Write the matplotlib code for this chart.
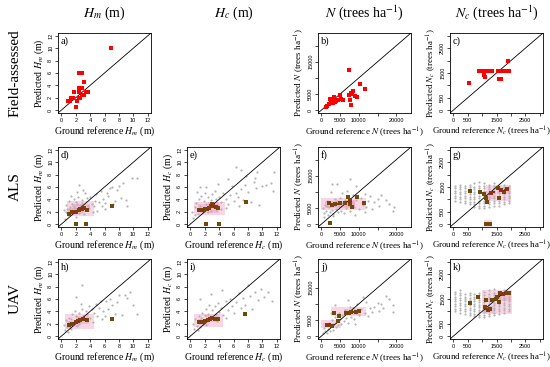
import matplotlib
matplotlib.use("Agg")
import matplotlib.pyplot as plt
from matplotlib.patches import Rectangle

plt.rcParams['font.family'] = 'Liberation Serif'
plt.rcParams['mathtext.fontset'] = 'stix'

# ---------------- data ----------------
col_titles = [r"$H_m$ (m)", r"$H_c$ (m)", r"$N$ (trees ha$^{-1}$)", r"$N_c$ (trees ha$^{-1}$)"]
row_titles = ["Field-assessed", "ALS", "UAV"]
var_names = [r"$H_m$ (m)", r"$H_c$ (m)", r"$N$ (trees ha$^{-1}$)", r"$N_c$ (trees ha$^{-1}$)"]
axis_max = [12, 12, 23000, 3000]
tick_vals = [[0, 2, 4, 6, 8, 10, 12], [0, 2, 4, 6, 8, 10, 12],
             [0, 5000, 10000, 15000, 20000], [0, 500, 1000, 1500, 2000, 2500, 3000]]
xtick_labels = [["0", "2", "4", "6", "8", "10", "12"], ["0", "2", "4", "6", "8", "10", "12"],
                ["0", "5000", "10000", "", "20000"], ["0", "500", "", "1500", "", "2500", ""]]
ytick_labels = [["0", "2", "4", "6", "8", "10", "12"], ["0", "2", "4", "6", "8", "10", "12"],
                ["0", "5000", "", "15000", ""], ["0", "500", "", "1500", "", "2500", ""]]

# field-assessed (red squares)
a_field = [(6.9, 10.0), (2.5, 6.0), (2.8, 6.0), (3.2, 4.5), (2.4, 3.5), (2.8, 3.5), (1.8, 3.0),
           (2.5, 3.0), (3.4, 3.0), (3.7, 3.0), (2.9, 2.5), (3.1, 2.5), (1.4, 2.0), (1.6, 2.0),
           (2.4, 2.0), (2.6, 2.0), (0.9, 1.5), (1.25, 1.5), (2.1, 1.5), (2.0, 0.5)]
b_field = [(7300, 12400), (10400, 8200), (11600, 6500), (5000, 4600), (3300, 4200), (7800, 5300),
           (8400, 6000), (8200, 5000), (8900, 4400), (9400, 4200), (7300, 4600), (7700, 3200),
           (8000, 1600), (5300, 3400), (5700, 3200), (2400, 3400), (3000, 3100), (3400, 2900),
           (3900, 2800), (2600, 2400), (2100, 1900), (1600, 1300), (1200, 1000), (3000, 2100),
           (3600, 2600), (4300, 3000), (3300, 3600)]
c_field = [(900, 1600), (1000, 1600), (1050, 1600), (1100, 1600), (1150, 1600), (1200, 1600),
           (1250, 1600), (1300, 1600), (1350, 1600), (1550, 1600), (1600, 1600), (1650, 1600),
           (1700, 1600), (1750, 1600), (1800, 1600), (1850, 1600), (1900, 1600), (1950, 1600),
           (1900, 2000), (1050, 1400), (1100, 1350), (1600, 1250), (1650, 1250), (550, 1100)]

# ALS row
d_gray = [(0.3, 2.2), (0.5, 0.8), (0.7, 3.1), (0.8, 2.4), (1.0, 1.6), (1.1, 3.8), (1.2, 2.8),
          (1.3, 4.6), (1.5, 3.3), (1.6, 2.0), (1.7, 4.1), (1.8, 2.9), (2.0, 3.6), (2.1, 5.2),
          (2.2, 2.4), (2.3, 4.4), (2.5, 6.4), (2.6, 3.1), (2.8, 3.9), (3.0, 5.5), (3.1, 2.7),
          (3.3, 5.0), (3.5, 4.2), (3.7, 3.0), (4.0, 4.4), (4.2, 3.3), (4.5, 2.9), (4.8, 4.8),
          (5.0, 2.1), (5.2, 3.6), (5.5, 5.4), (5.8, 4.0), (6.0, 2.5), (6.3, 5.0), (6.5, 4.5),
          (6.7, 5.8), (7.0, 6.0), (7.2, 3.2), (7.5, 3.7), (7.8, 5.5), (8.0, 6.2), (8.3, 4.2),
          (8.6, 6.7), (9.0, 3.9), (9.2, 2.9), (9.9, 7.4), (10.5, 7.4), (1.4, 2.1), (1.9, 2.6),
          (2.4, 1.8), (2.9, 3.4), (3.4, 2.3), (0.9, 1.5), (2.7, 2.2), (3.8, 2.6), (4.4, 1.9),
          (5.6, 3.0), (6.1, 3.4), (1.0, 2.5), (2.0, 1.2), (3.2, 1.6), (0.6, 1.9), (4.7, 3.8),
          (2.2, 3.2)]
d_pink = [(0.8, 4.6, 1.3, 3.7), (1.0, 3.2, 1.6, 2.6), (1.5, 4.0, 2.0, 3.3), (0.9, 2.2, 1.5, 2.2)]
d_brown = [(1.0, 1.7), (1.5, 1.9), (2.0, 1.9), (2.4, 2.2), (2.9, 2.5), (3.2, 2.6), (2.6, 2.4),
           (3.6, 2.2), (2.0, 0.0), (3.4, 0.0), (7.0, 3.0)]
d_red = [(1.2, 1.8), (1.7, 1.9), (2.2, 2.1), (2.7, 2.4), (3.0, 2.6), (3.4, 2.4)]

e_gray = [(0.2, 2.0), (0.4, 1.0), (0.6, 2.8), (0.8, 3.4), (1.0, 2.2), (1.2, 4.0), (1.4, 3.0),
          (1.5, 4.6), (1.7, 2.6), (1.9, 3.8), (2.0, 5.0), (2.2, 3.2), (2.4, 4.3), (2.6, 2.8),
          (2.8, 3.9), (3.0, 4.8), (3.2, 3.4), (3.4, 5.4), (3.6, 4.0), (3.8, 2.9), (4.0, 4.4),
          (4.3, 3.6), (4.6, 5.0), (4.9, 4.1), (5.2, 3.2), (5.5, 4.7), (5.8, 6.2), (6.0, 3.7),
          (6.3, 5.1), (6.6, 4.3), (7.0, 5.6), (7.3, 3.9), (7.6, 6.3), (8.0, 5.2), (8.5, 3.6),
          (8.8, 6.8), (9.2, 5.9), (9.6, 3.1), (10.0, 6.2), (10.5, 6.4), (11.2, 6.7), (11.5, 5.3),
          (7.8, 7.8), (9.0, 7.5), (5.0, 2.6), (6.8, 2.9), (1.1, 1.6), (2.5, 1.9), (3.5, 2.2),
          (0.7, 1.5), (1.8, 2.0), (4.2, 2.5), (2.9, 2.1), (1.3, 6.0), (2.1, 6.0), (3.9, 6.5),
          (5.3, 7.3), (6.4, 9.2), (7.1, 8.7), (9.3, 8.5), (11.6, 8.4), (0.9, 5.2)]
e_pink = [(0.5, 4.8, 1.4, 3.6), (1.0, 4.0, 1.8, 3.2), (2.5, 4.0, 2.4, 3.6)]
e_brown = [(1.2, 2.3), (1.6, 2.3), (2.0, 2.4), (2.3, 2.5), (2.6, 2.6), (2.8, 3.0), (3.0, 3.2),
           (3.2, 2.9), (3.5, 2.8), (3.8, 2.6), (2.2, 0.0), (4.0, 0.0), (7.7, 3.6)]
e_red = [(1.4, 2.2), (1.8, 2.3), (2.4, 2.5), (2.9, 3.1), (3.1, 3.0), (3.4, 2.7)]

f_gray = [(500, 5000), (800, 3500), (1000, 6000), (1200, 4200), (1500, 7000), (1800, 2800),
          (2000, 5200), (2200, 3800), (2500, 6500), (2800, 4500), (2900, 12300), (3200, 3200),
          (3500, 5800), (3800, 4800), (4200, 12300), (4200, 7200), (4500, 3600), (4800, 5500),
          (5000, 8000), (5300, 4200), (5600, 6400), (6000, 3500), (6300, 7500), (6600, 5000),
          (7000, 8500), (7600, 13900), (7600, 4000), (8000, 6800), (8400, 9000), (8800, 5200),
          (9200, 7600), (9200, 11800), (10000, 4600), (10500, 8200), (11000, 6000),
          (11500, 9200), (12000, 5200), (12500, 7200), (13000, 8600), (13500, 4800),
          (14000, 6800), (15000, 7800), (15500, 5600), (16000, 9000), (17200, 7500),
          (18000, 6200), (19000, 4000), (19500, 5400), (2600, 9800), (6800, 10200), (9000, 2800),
          (1400, 5600), (3600, 7800), (5500, 9700), (11500, 3600), (600, 2200), (3000, 2500)]
f_pink = [(0, 12000, 4300, 8000), (1000, 9000, 5000, 7000), (6000, 9000, 5200, 7400)]
f_brown = [(2000, 6400), (2900, 5900), (3700, 6200), (5000, 6600), (6300, 6600), (7000, 8300),
           (7500, 7500), (7700, 6200), (8100, 5400), (9600, 8500), (11300, 6600), (2400, 200)]
f_red = [(2400, 6100), (4300, 6300), (7300, 6800), (7600, 7200)]

g_cols = [50, 220, 390, 560, 730, 900, 1070, 1240, 1410, 1580, 1750, 1920]
g_stripes = [[950, 1050, 1150, 1250, 1350, 1450, 1550],
             [900, 1000, 1100, 1200, 1300, 1400, 1500, 1600],
             [850, 950, 1050, 1150, 1250, 1350, 1450, 1550],
             [800, 900, 1000, 1100, 1200, 1300, 1400, 1500, 1600],
             [700, 800, 900, 1000, 1100, 1200, 1300, 1400, 1500, 1650],
             [650, 750, 850, 950, 1050, 1150, 1250, 1350, 1450, 1550, 1700],
             [650, 750, 850, 950, 1050, 1150, 1250, 1350, 1450, 1550, 1650],
             [700, 800, 900, 1000, 1100, 1200, 1300, 1400, 1500, 1600],
             [750, 850, 950, 1050, 1150, 1250, 1350, 1450, 1550, 1650],
             [750, 850, 950, 1050, 1150, 1250, 1350, 1450, 1550],
             [800, 900, 1000, 1100, 1200, 1300, 1400, 1500, 1600],
             [850, 950, 1050, 1150, 1250, 1350, 1450, 1550]]
g_pink = [(1150, 2000, 950, 1600), (1500, 1950, 1200, 1500), (1100, 1400, 1000, 1350),
          (1050, 1350, -100, 150)]
g_brown = [(570, 1340), (910, 1280), (1080, 1200), (1140, 1040), (1170, 900), (1300, 1240),
           (1560, 1460), (1650, 1370), (1760, 1300), (1880, 1410), (1590, 1040), (1140, 0),
           (1290, 0)]
g_red = [(1550, 1450), (1600, 1420), (1650, 1380), (1700, 1350), (1750, 1330), (1800, 1380),
         (1850, 1420), (1900, 1450), (1300, 1250), (1350, 1280), (1400, 1300)]

# UAV row
h_gray = [(0.3, 1.8), (0.5, 1.0), (0.6, 2.6), (0.8, 1.5), (1.0, 2.2), (1.1, 3.0), (1.2, 1.4),
          (1.4, 2.8), (1.5, 3.6), (1.6, 1.8), (1.8, 2.4), (1.9, 4.0), (2.0, 3.2), (2.1, 1.6),
          (2.0, 6.4), (2.3, 2.9), (2.5, 3.8), (2.6, 2.2), (2.8, 4.4), (2.9, 8.3), (3.0, 3.2),
          (3.2, 2.6), (3.4, 4.1), (3.6, 3.5), (3.8, 4.8), (4.0, 2.9), (4.2, 4.3), (4.5, 3.7),
          (4.8, 5.2), (5.0, 3.2), (5.2, 4.6), (5.5, 5.6), (5.8, 4.0), (6.0, 3.3), (6.2, 5.6),
          (6.5, 4.4), (6.8, 6.0), (7.0, 5.1), (7.4, 3.6), (7.8, 5.5), (8.0, 6.6), (8.4, 3.4),
          (8.9, 6.7), (9.2, 6.2), (9.6, 7.2), (10.0, 5.1), (10.5, 3.5), (1.3, 1.2), (2.4, 1.9),
          (3.5, 2.4), (0.9, 0.6), (2.7, 5.2), (4.4, 2.3), (5.6, 2.8), (1.7, 2.1)]
h_pink = [(0.5, 4.5, 1.2, 3.6), (0.8, 2.4, 1.5, 2.4), (2.0, 3.8, 2.0, 3.2)]
h_brown = [(1.0, 1.8), (1.5, 2.0), (2.0, 2.2), (2.3, 2.4), (2.6, 2.6), (3.0, 2.8), (3.5, 2.6),
           (7.0, 2.7)]
h_red = [(1.2, 1.9), (1.7, 2.1), (2.2, 2.3), (2.5, 2.5), (2.8, 2.7), (3.3, 2.7)]

i_gray = [(0.3, 1.9), (0.5, 1.2), (0.7, 2.8), (0.9, 1.6), (1.0, 2.4), (1.2, 3.2), (1.3, 1.5),
          (1.5, 2.9), (1.6, 3.8), (1.8, 2.0), (2.0, 3.4), (2.1, 4.4), (2.3, 2.6), (2.5, 3.6),
          (2.6, 5.0), (2.8, 2.9), (3.0, 4.2), (3.2, 3.1), (3.4, 4.8), (3.6, 3.6), (3.8, 5.4),
          (4.0, 3.9), (4.3, 4.6), (4.6, 3.4), (4.9, 5.6), (5.2, 4.2), (5.5, 6.0), (5.8, 4.8),
          (6.1, 3.8), (6.4, 5.5), (6.7, 7.0), (7.0, 4.6), (7.3, 6.2), (7.6, 5.0), (8.0, 8.3),
          (8.3, 6.5), (8.6, 4.4), (9.0, 7.2), (9.4, 5.8), (9.8, 7.6), (10.2, 6.3), (10.8, 7.1),
          (11.4, 5.6), (1.4, 6.0), (2.9, 6.8), (4.4, 7.5), (3.7, 2.4), (5.0, 2.9), (1.1, 0.9),
          (2.2, 1.8)]
i_pink = [(0.5, 4.5, 1.4, 3.6), (1.0, 2.6, 1.8, 2.8), (2.2, 4.0, 2.2, 3.4)]
i_brown = [(1.2, 2.2), (1.6, 2.3), (2.0, 2.4), (2.4, 2.6), (2.7, 2.8), (3.0, 3.0), (3.4, 2.8),
           (3.8, 2.7), (7.6, 3.6)]
i_red = [(1.4, 2.2), (1.8, 2.4), (2.2, 2.5), (2.6, 2.7), (3.2, 2.9)]

j_gray = [(500, 800), (800, 2500), (1000, 1500), (1200, 3500), (1500, 1000), (1800, 2200),
          (2000, 4200), (2200, 1500), (2500, 3000), (2800, 5000), (3000, 2000), (3200, 3800),
          (3500, 6000), (3800, 2800), (4000, 4500), (4300, 3400), (4600, 7000), (5000, 5200),
          (5300, 3600), (5600, 6400), (6000, 4600), (6300, 8200), (6600, 5600), (7000, 4200),
          (7300, 7000), (7600, 9000), (8000, 6000), (8400, 8600), (8800, 5200), (9200, 7200),
          (9600, 9800), (10000, 6600), (10500, 8400), (11000, 12000), (11500, 7000),
          (12000, 10500), (12500, 6200), (13000, 8800), (13500, 7600), (14000, 9000),
          (15000, 10200), (15500, 7800), (16000, 10000), (16500, 8600), (17300, 12500),
          (18000, 11500), (19000, 7500), (19000, 9600), (3600, 9500), (2600, 7200), (7000, 11200),
          (9000, 3800)]
j_pink = [(0, 5200, 2500, 5100), (500, 3500, 2800, 4200), (2500, 11900, 6100, 9000),
          (6000, 10500, 6600, 8400)]
j_brown = [(1500, 3500), (2100, 3400), (2700, 3200), (3400, 7100), (4300, 4800), (4700, 6100),
           (6500, 7300), (7400, 7100), (8000, 7400), (9200, 7600), (10100, 7900)]
j_red = [(1800, 3300), (2400, 3600), (7000, 7300), (8600, 7500)]

k_cols = [50, 220, 390, 560, 730, 900, 1070, 1240, 1410, 1580, 1750, 1920]
k_stripes = [[1000, 1100, 1200, 1300, 1400, 1500, 1600, 1700, 1800],
             [950, 1050, 1150, 1250, 1350, 1450, 1550, 1650, 1750, 1850],
             [900, 1000, 1100, 1200, 1300, 1400, 1500, 1600, 1700],
             [850, 950, 1050, 1150, 1250, 1350, 1450, 1550, 1650, 1750],
             [800, 900, 1000, 1100, 1200, 1300, 1400, 1500, 1600, 1700],
             [760, 860, 960, 1060, 1160, 1260, 1360, 1460, 1560, 1660, 1760],
             [760, 860, 960, 1060, 1160, 1260, 1360, 1460, 1560, 1660, 1800],
             [800, 900, 1000, 1100, 1200, 1300, 1400, 1500, 1600, 1700, 1850],
             [850, 950, 1050, 1150, 1250, 1350, 1450, 1550, 1650, 1750, 1900],
             [900, 1000, 1100, 1200, 1300, 1400, 1500, 1600, 1700, 1800],
             [950, 1050, 1150, 1250, 1350, 1450, 1550, 1650, 1750, 1850],
             [1000, 1100, 1200, 1300, 1400, 1500, 1600, 1700, 1800]]
k_pink = [(1000, 2030, 900, 1870), (1100, 1400, 950, 1200), (1500, 2000, 1400, 1800)]
k_brown = [(560, 1350), (870, 1570), (1140, 1460), (1100, 1180), (1190, 1070), (1280, 1110),
           (1340, 1460), (1490, 1490), (1530, 1600), (1630, 1740), (1740, 1710), (1860, 1760),
           (1950, 1740), (1570, 1390)]
k_red = [(1150, 1100), (1220, 1050), (1600, 1650), (1700, 1720), (1800, 1730)]

gray_c = '#b4b4b4'
pink_c = '#f27fb2'
brown_c = '#6e4b0a'
red_c = '#a3201c'

# ---------------- layout ----------------
fig = plt.figure(figsize=(5.5, 3.67), dpi=100)
col_left = [58, 187, 318, 450]
row_top = [33, 147, 259]
W, H = 93, 80
label_size = [7, 7, 6.6, 6.4]


def make_ax(r, c, letter):
    ax = fig.add_axes([col_left[c] / 550, 1 - (row_top[r] + H) / 367, W / 550, H / 367])
    m = axis_max[c]
    ax.set_xlim(-0.04 * m, 1.04 * m)
    ax.set_ylim(-0.04 * m, 1.04 * m)
    ax.plot([-0.04 * m, 1.04 * m], [-0.04 * m, 1.04 * m], color='black', lw=0.6, zorder=3)
    ax.set_xticks(tick_vals[c])
    ax.set_xticklabels(xtick_labels[c], fontfamily='Liberation Sans', fontsize=4)
    ax.set_yticks(tick_vals[c])
    ax.set_yticklabels(ytick_labels[c], fontfamily='Liberation Sans', fontsize=4,
                       rotation=90, va='center')
    ax.tick_params(direction='out', length=2, width=0.5, pad=1.5)
    for s in ax.spines.values():
        s.set_linewidth(0.6)
    ax.set_xlabel("Ground reference " + var_names[c], fontsize=label_size[c], labelpad=1.5)
    ax.set_ylabel("Predicted " + var_names[c], fontsize=label_size[c], labelpad=1.5)
    if c == 3:
        ax.xaxis.set_label_coords(0.44, -0.135, transform=ax.transAxes)
        ax.xaxis.label.set_va('top')
    ax.text(0.03, 0.96, letter, transform=ax.transAxes, ha='left', va='top', fontsize=7.5)
    return ax


def draw_model(ax, gray, pink, brown, red):
    for x0, x1, y0, y1 in pink:
        ax.add_patch(Rectangle((x0, y0), x1 - x0, y1 - y0, facecolor=pink_c, alpha=0.32,
                               edgecolor='none', zorder=1))
    ax.plot([p[0] for p in gray], [p[1] for p in gray], 'o', ms=1.6, color=gray_c, mew=0,
            zorder=2)
    ax.plot([p[0] for p in brown], [p[1] for p in brown], 's', ms=2.4, color=brown_c, mew=0,
            zorder=4)
    ax.plot([p[0] for p in red], [p[1] for p in red], 's', ms=1.8, color=red_c, mew=0,
            zorder=5)


def stripes_to_points(cols, stripes):
    pts = []
    for x, ys in zip(cols, stripes):
        for y in ys:
            pts.append((x, y))
    return pts


# row 1: field-assessed
for c, letter, pts in [(0, 'a)', a_field), (2, 'b)', b_field), (3, 'c)', c_field)]:
    ax = make_ax(0, c, letter)
    ax.plot([p[0] for p in pts], [p[1] for p in pts], 's', ms=2.4, color='red', mew=0, zorder=4)

# row 2: ALS
ax = make_ax(1, 0, 'd)')
draw_model(ax, d_gray, d_pink, d_brown, d_red)
ax = make_ax(1, 1, 'e)')
draw_model(ax, e_gray, e_pink, e_brown, e_red)
ax = make_ax(1, 2, 'f)')
draw_model(ax, f_gray, f_pink, f_brown, f_red)
ax = make_ax(1, 3, 'g)')
draw_model(ax, stripes_to_points(g_cols, g_stripes), g_pink, g_brown, g_red)

# row 3: UAV
ax = make_ax(2, 0, 'h)')
draw_model(ax, h_gray, h_pink, h_brown, h_red)
ax = make_ax(2, 1, 'i)')
draw_model(ax, i_gray, i_pink, i_brown, i_red)
ax = make_ax(2, 2, 'j)')
draw_model(ax, j_gray, j_pink, j_brown, j_red)
ax = make_ax(2, 3, 'k)')
draw_model(ax, stripes_to_points(k_cols, k_stripes), k_pink, k_brown, k_red)

# column and row titles
for c, t in enumerate(col_titles):
    fig.text((col_left[c] + W / 2) / 550, 1 - 13 / 367, t, ha='center', va='center', fontsize=10)
for r, t in enumerate(row_titles):
    fig.text(15 / 550, 1 - (row_top[r] + H / 2) / 367, t, ha='center', va='center',
             rotation=90, fontsize=11)

fig.savefig('out.png', dpi=100)
